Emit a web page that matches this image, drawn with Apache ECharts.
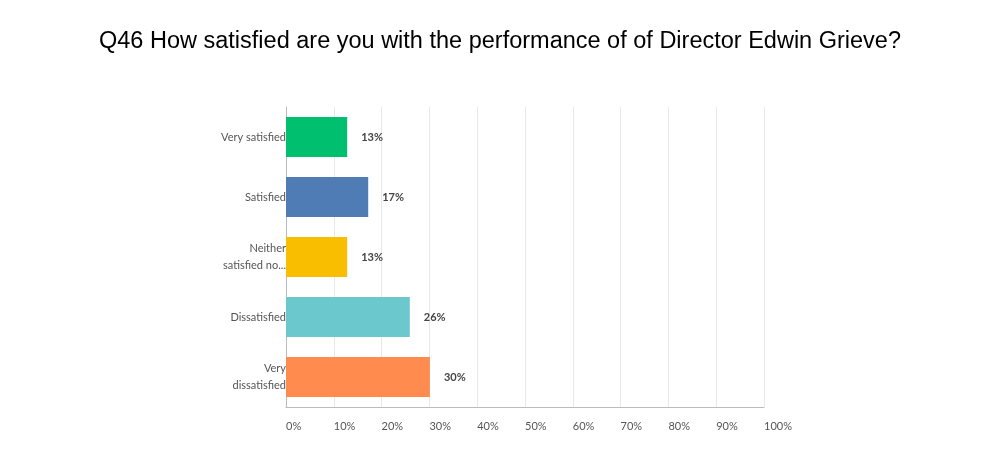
<!DOCTYPE html>
<html>
<head>
<meta charset="utf-8">
<script src="https://cdn.jsdelivr.net/npm/echarts@6/dist/echarts.min.js"></script>
<style>
html, body { margin: 0; padding: 0; background: #fff; }
#chart { width: 1000px; height: 460px; }
</style>
</head>
<body>
<div id="chart"></div>
<script>
var categories = ['Very satisfied', 'Satisfied', 'Neither\nsatisfied no...', 'Dissatisfied', 'Very\ndissatisfied'];
var values = [12.8, 17.2, 12.8, 25.9, 30.1];
var colors = ['#00bf6f', '#507cb6', '#f9be00', '#6bc8cd', '#ff8b4f'];

var chart = echarts.init(document.getElementById('chart'));
chart.setOption({
    animation: false,
    title: {
        text: 'Q46 How satisfied are you with the performance of of Director Edwin Grieve?',
        left: 'center',
        top: 25,
        textStyle: { fontFamily: 'Liberation Sans', fontSize: 23.5, fontWeight: 'normal', color: '#000' }
    },
    grid: { left: 286, top: 107, width: 478, height: 300 },
    xAxis: {
        type: 'value',
        min: 0,
        max: 100,
        interval: 10,
        axisLine: { show: true, lineStyle: { color: '#bbb' } },
        axisTick: { show: false },
        splitLine: { lineStyle: { color: '#e8e8e8' } },
        axisLabel: {
            formatter: function (v) { return v + '%'; },
            color: '#555',
            fontFamily: 'Lato',
            fontSize: 11,
            margin: 14,
            align: 'left'
        }
    },
    yAxis: {
        type: 'category',
        inverse: true,
        data: categories,
        axisLine: { show: true, lineStyle: { color: '#bbb' } },
        axisTick: { show: false },
        axisLabel: { color: '#555', fontFamily: 'Lato', fontSize: 11, lineHeight: 17, margin: 0, align: 'right' }
    },
    series: [{
        type: 'bar',
        barWidth: 40,
        data: values.map(function (v, i) {
            return { value: v, itemStyle: { color: colors[i] } };
        }),
        label: {
            show: true,
            position: 'right',
            distance: 14,
            formatter: function (p) { return Math.round(p.value) + '%'; },
            color: '#444',
            fontFamily: 'Lato',
            fontWeight: 'bold',
            fontSize: 11
        }
    }]
});
</script>
</body>
</html>
